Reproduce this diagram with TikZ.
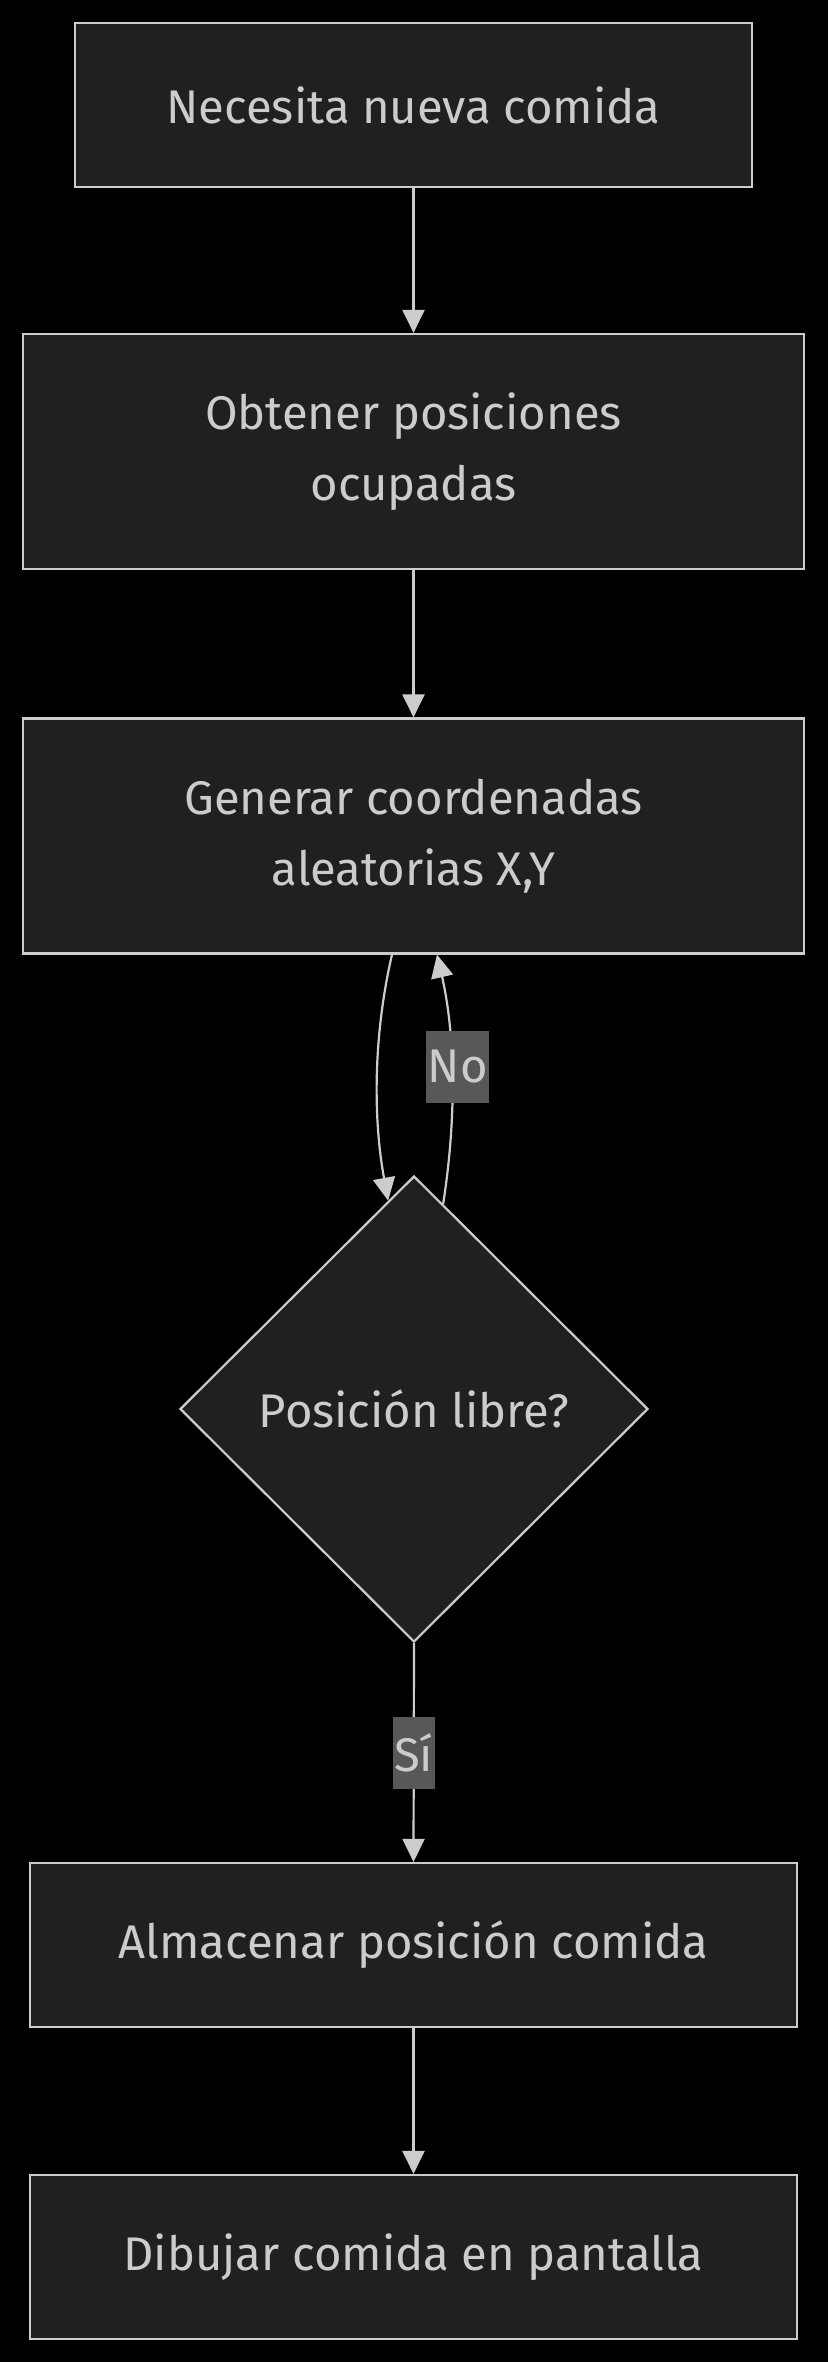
\documentclass[tikz,border=0pt]{standalone}
\usepackage{fontspec}
\setmainfont{Fira Sans}
\usetikzlibrary{arrows.meta,shapes.geometric,calc}
\definecolor{nodefill}{HTML}{1F2020}
\definecolor{nodeline}{HTML}{CCCCCC}
\definecolor{txt}{HTML}{CCCCCC}
\definecolor{lblfill}{HTML}{585858}
\begin{document}
\begin{tikzpicture}[x=1pt,y=-1pt,
  every node/.style={font=\fontsize{47.2}{71}\selectfont, text=txt},
  box/.style={draw=nodeline, fill=nodefill, line width=2.2pt, rectangle, inner sep=0pt, align=center},
  decision/.style={draw=nodeline, fill=nodefill, line width=2.2pt, diamond, aspect=1, inner sep=0pt, minimum width=468pt, minimum height=466pt},
  edge/.style={draw=nodeline, line width=2.2pt, -{Triangle[length=23pt,width=22pt]}},
  lbl/.style={fill=lblfill, inner sep=0pt, inner xsep=1.5pt, minimum height=72pt, text=txt}
]
\fill[black] (0,0) rectangle (828,2362);
\useasboundingbox (0,0) rectangle (828,2362);

\node[box, minimum width=677pt, minimum height=164pt] (b1) at (413.5,105) {Necesita nueva comida};
\node[box, minimum width=781pt, minimum height=235pt] (b2) at (413.5,451.5) {Obtener posiciones\\ocupadas};
\node[box, minimum width=781pt, minimum height=235pt] (b3) at (413.5,836) {Generar coordenadas\\aleatorias X,Y};
\node[decision] (d) at (414,1409) {Posición libre?};
\node[box, minimum width=767pt, minimum height=164pt] (b4) at (413.5,1945) {Almacenar posición comida};
\node[box, minimum width=767pt, minimum height=164pt] (b5) at (413.5,2257) {Dibujar comida en pantalla};

\draw[edge] (b1) -- (b2);
\draw[edge] (b2) -- (b3);
\draw[edge] ([xshift=-21.5pt]b3.south) .. controls +(-19,82) and +(-15,-82) .. ($(d.north)!0.11!(d.west)$);
\draw[edge] ($(d.north)!0.124!(d.east)$) .. controls +(13,-83) and +(19,83) .. ([xshift=23.5pt]b3.south)
  node[lbl, pos=0.55, xshift=6pt] (no) {No};
\draw[edge] (d.south) -- node[lbl] (si) {Sí} (b4.north);
\draw[edge] (b4) -- (b5);
\end{tikzpicture}
\end{document}
